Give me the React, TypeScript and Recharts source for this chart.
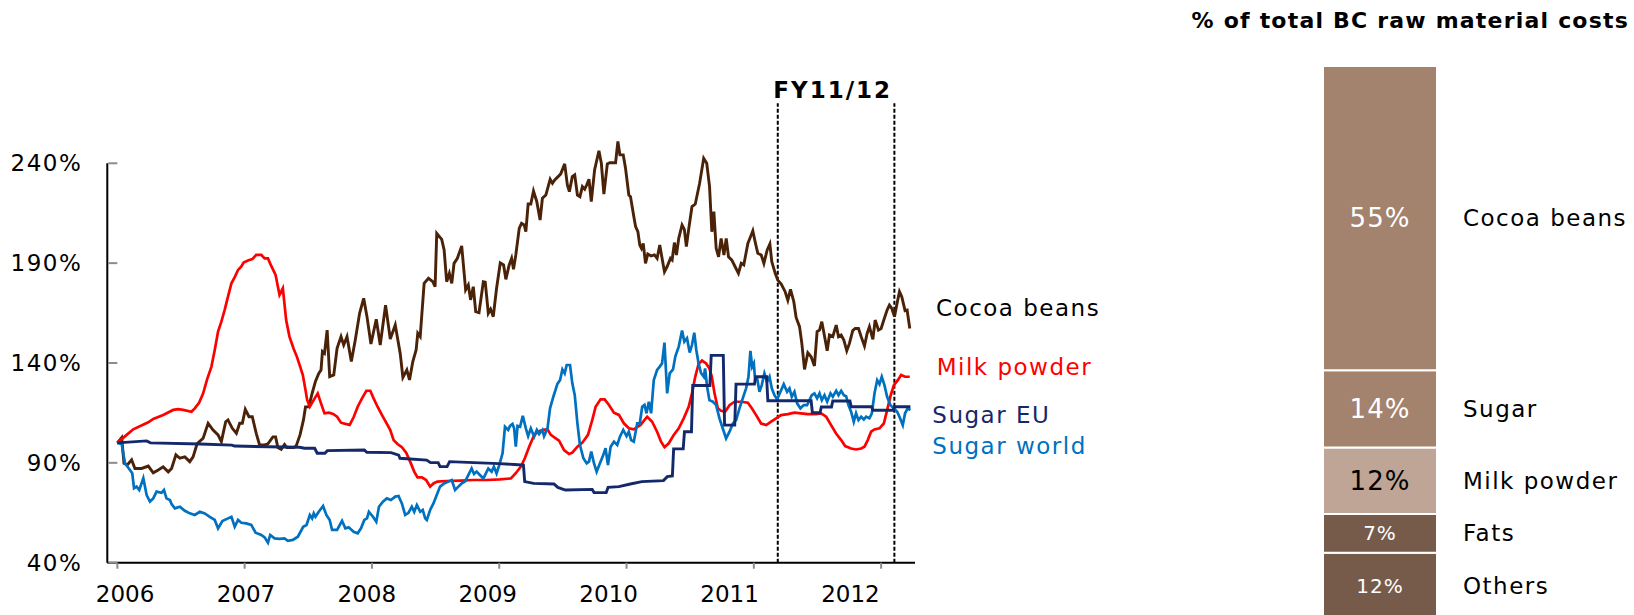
import React from 'react';
import { LineChart, Line, XAxis, YAxis, ReferenceLine, BarChart, Bar, LabelList } from 'recharts';

// Price index, Jan 2006 = 100%. Each entry is [decimal year, index %].
const cocoaBeans: [number, number][] = [
  [2006.0, 100], [2006.034, 102.6], [2006.052, 89.8], [2006.078, 89], [2006.112, 91.5], [2006.138, 87.2],
  [2006.191, 87.2], [2006.243, 88.4], [2006.282, 85], [2006.321, 86.4], [2006.36, 88], [2006.4, 85.5],
  [2006.426, 87.2], [2006.46, 94], [2006.491, 92.3], [2006.53, 93], [2006.569, 90.6], [2006.595, 93],
  [2006.627, 99.6], [2006.674, 102.3], [2006.713, 109.8], [2006.752, 106.4], [2006.791, 104], [2006.817, 100.6],
  [2006.851, 110.6], [2006.869, 111.5], [2006.903, 107.3], [2006.935, 104.8], [2006.961, 109.8], [2006.982, 109.8],
  [2007.005, 116.8], [2007.034, 113.1], [2007.06, 113.1], [2007.091, 104.8], [2007.117, 99], [2007.157, 99],
  [2007.183, 99.5], [2007.222, 103], [2007.243, 103], [2007.261, 97.6], [2007.287, 96.7], [2007.313, 99.2],
  [2007.332, 97.6], [2007.358, 97.6], [2007.386, 97.6], [2007.405, 98.5], [2007.435, 104], [2007.462, 111.5],
  [2007.478, 118], [2007.504, 118.1], [2007.53, 124.8], [2007.556, 130.7], [2007.582, 134.8], [2007.6, 136.5],
  [2007.611, 145.7], [2007.627, 144.8], [2007.648, 156.5], [2007.668, 133.2], [2007.7, 134], [2007.726, 147.3],
  [2007.757, 153.2], [2007.778, 149], [2007.804, 153.2], [2007.838, 140.7], [2007.869, 151.5], [2007.903, 164.9],
  [2007.935, 172.4], [2007.961, 163.2], [2007.992, 149.5], [2008.034, 161.9], [2008.065, 149], [2008.107, 169],
  [2008.144, 152], [2008.183, 159], [2008.222, 144.8], [2008.243, 132.8], [2008.274, 136.5], [2008.295, 131.5],
  [2008.321, 140.7], [2008.347, 146.5], [2008.36, 154.9], [2008.379, 153.2], [2008.41, 179.9], [2008.444, 182.4],
  [2008.478, 180.7], [2008.496, 178.2], [2008.509, 204.9], [2008.548, 201.9], [2008.567, 196.6], [2008.587, 180.7],
  [2008.608, 184.9], [2008.627, 179.9], [2008.645, 189.9], [2008.671, 192.4], [2008.705, 198.6], [2008.736, 176.6],
  [2008.757, 179.1], [2008.775, 171.6], [2008.796, 178.2], [2008.815, 165.7], [2008.841, 165.2], [2008.875, 180.7],
  [2008.89, 180.5], [2008.914, 164.9], [2008.932, 166.9], [2008.953, 163.2], [2008.979, 177.4], [2009.008, 190.1],
  [2009.034, 189.1], [2009.052, 181.9], [2009.078, 189.1], [2009.097, 192.4], [2009.112, 186.9], [2009.13, 194.1],
  [2009.157, 207.4], [2009.175, 209.9], [2009.196, 209.1], [2009.209, 205.8], [2009.227, 219.6], [2009.248, 219.6],
  [2009.269, 226.1], [2009.295, 220.8], [2009.321, 211.6], [2009.339, 222.5], [2009.366, 224.1], [2009.4, 232],
  [2009.418, 230], [2009.436, 231.7], [2009.462, 233.3], [2009.483, 234.7], [2009.514, 239.7], [2009.535, 229.2],
  [2009.551, 225.8], [2009.574, 233.3], [2009.593, 234.2], [2009.614, 224.1], [2009.634, 223.3], [2009.653, 228.3],
  [2009.671, 227], [2009.687, 229.2], [2009.705, 232], [2009.723, 220.8], [2009.749, 236.7], [2009.783, 246.3],
  [2009.802, 240], [2009.822, 224.6], [2009.849, 239.7], [2009.869, 240.3], [2009.914, 240.3], [2009.932, 250.9],
  [2009.948, 244.2], [2009.974, 244.2], [2009.992, 237.5], [2010.018, 224.1], [2010.031, 223.3], [2010.057, 213.3],
  [2010.071, 208.3], [2010.089, 205.8], [2010.104, 199.1], [2010.117, 197.4], [2010.131, 199.9], [2010.149, 189.9],
  [2010.167, 194.6], [2010.193, 193.6], [2010.219, 194.1], [2010.24, 192.4], [2010.261, 199.1], [2010.279, 192.4],
  [2010.298, 185.7], [2010.319, 188.3], [2010.345, 192.4], [2010.358, 191.6], [2010.376, 200.3], [2010.392, 194.1],
  [2010.41, 202.4], [2010.436, 209.1], [2010.454, 206.9], [2010.47, 198.3], [2010.488, 206.9], [2010.514, 218.3],
  [2010.54, 219.6], [2010.574, 230], [2010.606, 242.5], [2010.63, 240], [2010.652, 228.3], [2010.67, 205.7],
  [2010.686, 215.8], [2010.704, 197.4], [2010.723, 193.2], [2010.743, 202.4], [2010.765, 194.1], [2010.783, 202.4],
  [2010.801, 193.2], [2010.827, 191.5], [2010.853, 188.2], [2010.879, 184.9], [2010.901, 189.9], [2010.921, 189.1],
  [2010.953, 199.9], [2010.974, 203.2], [2010.992, 206.2], [2011.01, 200.7], [2011.031, 194.9], [2011.058, 194.1],
  [2011.079, 189.9], [2011.105, 196.6], [2011.126, 199.6], [2011.141, 190.7], [2011.168, 184.9], [2011.188, 181.5],
  [2011.215, 179.5], [2011.246, 175.7], [2011.267, 171.5], [2011.288, 176.9], [2011.314, 170.7], [2011.332, 162.8],
  [2011.359, 158.2], [2011.377, 149.8], [2011.398, 136.8], [2011.424, 145.1], [2011.45, 143.1], [2011.476, 138.5],
  [2011.497, 155.7], [2011.516, 156.5], [2011.534, 160.7], [2011.555, 153.5], [2011.576, 146.1], [2011.594, 154],
  [2011.62, 153.2], [2011.647, 159], [2011.665, 153.2], [2011.686, 154], [2011.707, 151.5], [2011.73, 146.1],
  [2011.751, 149.8], [2011.777, 156.2], [2011.796, 157.3], [2011.822, 157.3], [2011.843, 153.2], [2011.869, 148.5],
  [2011.89, 154.8], [2011.908, 158.2], [2011.935, 151.8], [2011.953, 161.5], [2011.979, 156.5], [2012.0, 157.3],
  [2012.021, 161.5], [2012.047, 166.5], [2012.065, 169], [2012.084, 167.3], [2012.105, 163.2], [2012.126, 170.2],
  [2012.144, 175.7], [2012.162, 173.2], [2012.188, 166.2], [2012.204, 166.5], [2012.225, 157.3],
];

const milkPowder: [number, number][] = [
  [2006.0, 100], [2006.073, 104], [2006.125, 106.8], [2006.243, 110.3], [2006.282, 112], [2006.36, 114],
  [2006.439, 116.5], [2006.478, 116.9], [2006.517, 116.5], [2006.582, 115.6], [2006.608, 117.3], [2006.642, 120.1],
  [2006.674, 124.8], [2006.705, 131.8], [2006.739, 138.2], [2006.765, 146.5], [2006.791, 155.7], [2006.817, 160.7],
  [2006.843, 166.6], [2006.869, 173.2], [2006.896, 179.9], [2006.922, 183], [2006.948, 186.6], [2006.974, 188.3],
  [2006.992, 190.3], [2007.026, 191.3], [2007.06, 192], [2007.091, 194.1], [2007.131, 194.1], [2007.157, 192.4],
  [2007.183, 192.4], [2007.209, 188.6], [2007.243, 184.1], [2007.274, 174.1], [2007.3, 177.4], [2007.326, 161.5],
  [2007.352, 153.2], [2007.384, 147.3], [2007.41, 143.2], [2007.436, 138.2], [2007.457, 134], [2007.478, 126.5],
  [2007.491, 121.5], [2007.512, 118.1], [2007.543, 121.5], [2007.574, 124.8], [2007.6, 119.8], [2007.627, 114.8],
  [2007.661, 115.1], [2007.695, 114.5], [2007.726, 113.1], [2007.757, 110.1], [2007.791, 109.5], [2007.825, 109],
  [2007.856, 112.8], [2007.888, 118.1], [2007.922, 122.3], [2007.956, 126.1], [2007.987, 126.1], [2008.013, 122.3],
  [2008.044, 118.1], [2008.078, 114], [2008.112, 110.1], [2008.144, 106.4], [2008.17, 101.4], [2008.201, 99.4],
  [2008.235, 97.8], [2008.269, 95.1], [2008.3, 90.6], [2008.332, 85.6], [2008.358, 82.7], [2008.392, 82.7],
  [2008.426, 81.4], [2008.457, 78.1], [2008.483, 79.7], [2008.514, 80.6], [2008.587, 80.9], [2008.692, 81.1],
  [2008.796, 81.4], [2008.901, 81.4], [2009.005, 81.7], [2009.091, 82.2], [2009.13, 84.8], [2009.17, 88.1],
  [2009.201, 92.3], [2009.235, 98.1], [2009.269, 103.1], [2009.3, 105.6], [2009.347, 106.5], [2009.379, 106.8],
  [2009.405, 104], [2009.444, 102.3], [2009.47, 101.1], [2009.509, 96.4], [2009.548, 94.4], [2009.574, 95.1],
  [2009.614, 98.1], [2009.653, 100.1], [2009.697, 104], [2009.731, 111.5], [2009.757, 118.1], [2009.796, 121.8],
  [2009.828, 121.8], [2009.862, 119], [2009.901, 115.1], [2009.94, 114], [2009.979, 109.8], [2010.018, 107.3],
  [2010.057, 106.8], [2010.089, 108.1], [2010.11, 109], [2010.162, 113.1], [2010.201, 110.6], [2010.24, 105.6],
  [2010.271, 100.6], [2010.298, 97.8], [2010.332, 99.8], [2010.371, 104], [2010.41, 107.3], [2010.449, 112.3],
  [2010.488, 118.1], [2010.514, 124.8], [2010.54, 133.2], [2010.566, 139.5], [2010.593, 141.2], [2010.625, 139.8],
  [2010.651, 137.3], [2010.67, 133.1], [2010.691, 124.8], [2010.717, 117.3], [2010.743, 116.1], [2010.774, 115.6],
  [2010.809, 118.9], [2010.848, 120.6], [2010.9, 120.6], [2010.953, 120.1], [2010.984, 117.3], [2011.018, 113.9],
  [2011.057, 109.7], [2011.097, 108.9], [2011.136, 110.6], [2011.175, 112.3], [2011.214, 113.9], [2011.267, 114.4],
  [2011.319, 115.1], [2011.371, 114.8], [2011.424, 114.4], [2011.489, 114.4], [2011.529, 114.8], [2011.568, 113.1],
  [2011.607, 108.9], [2011.646, 104.7], [2011.686, 101.4], [2011.717, 98.4], [2011.764, 97.2], [2011.803, 96.7],
  [2011.843, 97.2], [2011.869, 98.1], [2011.895, 101.4], [2011.921, 105.6], [2011.947, 106.7], [2011.987, 107.3],
  [2012.021, 109.7], [2012.047, 116.4], [2012.073, 123.4], [2012.1, 128.9], [2012.131, 131.4], [2012.157, 134],
  [2012.188, 133.1], [2012.225, 133.1],
];

// EU sugar moves in administered steps, so each level is listed at both ends.
const sugarEU: [number, number][] = [
  [2006.0, 100], [2006.23, 101], [2006.26, 100], [2006.65, 99.4], [2006.9, 98.9], [2006.92, 98.4],
  [2007.43, 97.8], [2007.47, 97.3], [2007.55, 97.3], [2007.57, 94.8], [2007.63, 94.8], [2007.65, 96.1],
  [2007.94, 96.4], [2007.96, 95.3], [2008.15, 95.1], [2008.21, 93.9], [2008.22, 92.3], [2008.43, 91.4],
  [2008.46, 90.1], [2008.52, 90.1], [2008.535, 88.1], [2008.59, 88.1], [2008.61, 90.6], [2008.8, 90.1],
  [2009.0, 89.6], [2009.12, 89.2], [2009.19, 88.9], [2009.2, 80.6], [2009.27, 79.7], [2009.43, 79.4],
  [2009.46, 77.7], [2009.52, 76.4], [2009.73, 76.7], [2009.745, 75.1], [2009.84, 75.1], [2009.855, 77.7],
  [2009.94, 78.1], [2010.03, 79.4], [2010.12, 80.6], [2010.29, 81.1], [2010.32, 83.1], [2010.36, 83.4],
  [2010.37, 97], [2010.445, 97], [2010.455, 105.6], [2010.51, 105.6], [2010.52, 128.7], [2010.655, 128.7],
  [2010.665, 143.8], [2010.76, 143.8], [2010.77, 108.9], [2010.85, 108.9], [2010.86, 129.4], [2011.005, 129.4],
  [2011.015, 133.1], [2011.1, 133.1], [2011.11, 121.1], [2011.45, 121.1], [2011.46, 115.1], [2011.52, 115.1],
  [2011.53, 118], [2011.61, 118], [2011.62, 121], [2011.755, 121], [2011.765, 118.1], [2011.925, 118.1],
  [2011.935, 116.3], [2012.095, 116.3], [2012.105, 118.1], [2012.23, 118.1],
];

const sugarWorld: [number, number][] = [
  [2006.0, 100], [2006.034, 99.4], [2006.06, 89.8], [2006.099, 86.4], [2006.117, 84.8], [2006.131, 77.3],
  [2006.151, 78.1], [2006.172, 76.4], [2006.204, 82.3], [2006.23, 73.9], [2006.256, 70.6], [2006.282, 72.2],
  [2006.308, 75.6], [2006.347, 75], [2006.366, 76.4], [2006.386, 72.2], [2006.413, 71.4], [2006.426, 69.4],
  [2006.452, 67.2], [2006.491, 68], [2006.53, 66], [2006.569, 64.7], [2006.608, 63.9], [2006.648, 65.5],
  [2006.687, 64.7], [2006.726, 63], [2006.765, 61.4], [2006.791, 57.2], [2006.825, 60.9], [2006.869, 62.2],
  [2006.896, 63], [2006.922, 58], [2006.948, 61.4], [2006.974, 60], [2007.013, 59.7], [2007.052, 58.9],
  [2007.086, 55], [2007.131, 53.9], [2007.157, 52.7], [2007.183, 50], [2007.201, 53.9], [2007.235, 52.2],
  [2007.274, 51.9], [2007.313, 52.2], [2007.339, 51], [2007.379, 51.4], [2007.418, 53], [2007.46, 58],
  [2007.486, 58.9], [2007.512, 63.9], [2007.53, 62.2], [2007.543, 64.7], [2007.556, 63], [2007.582, 65.5],
  [2007.616, 68.4], [2007.642, 63.9], [2007.668, 61.4], [2007.687, 56.4], [2007.726, 56.4], [2007.765, 61],
  [2007.791, 57.2], [2007.817, 57.7], [2007.856, 55.5], [2007.888, 54.7], [2007.914, 57.2], [2007.94, 61.4],
  [2007.961, 62.2], [2007.976, 65.5], [2008.008, 63], [2008.034, 60.5], [2008.055, 68], [2008.086, 70.6],
  [2008.117, 72.2], [2008.149, 71.4], [2008.183, 73.1], [2008.209, 73.4], [2008.235, 69.7], [2008.261, 63.9],
  [2008.287, 65], [2008.313, 68], [2008.332, 65.5], [2008.353, 68.9], [2008.379, 65.5], [2008.399, 66.4],
  [2008.418, 62.2], [2008.431, 61.4], [2008.457, 66.4], [2008.483, 69.7], [2008.509, 73.9], [2008.535, 78.1],
  [2008.567, 79.7], [2008.6, 80.6], [2008.627, 81.4], [2008.653, 76.4], [2008.679, 78.1], [2008.705, 79.7],
  [2008.731, 80.6], [2008.757, 83.9], [2008.783, 87.2], [2008.802, 84.4], [2008.822, 85.6], [2008.848, 83.9],
  [2008.875, 82.2], [2008.895, 84.7], [2008.914, 87.2], [2008.94, 85.6], [2008.958, 88.1], [2008.979, 84.7],
  [2009.0, 88.9], [2009.026, 94.8], [2009.045, 108.1], [2009.07, 106.5], [2009.085, 108.5], [2009.104, 109.5],
  [2009.117, 107.3], [2009.13, 98.1], [2009.144, 108.5], [2009.164, 108.1], [2009.185, 113.5], [2009.209, 107.3],
  [2009.227, 103.4], [2009.248, 107.3], [2009.274, 103.1], [2009.295, 106.5], [2009.313, 104.4], [2009.339, 106.5],
  [2009.352, 103.4], [2009.379, 107.3], [2009.399, 117.3], [2009.425, 123.1], [2009.457, 129.5], [2009.478, 131.5],
  [2009.496, 136.8], [2009.514, 134.8], [2009.53, 139], [2009.556, 139], [2009.574, 129.8], [2009.593, 124],
  [2009.614, 109.8], [2009.634, 98.9], [2009.661, 92.3], [2009.687, 89.8], [2009.705, 90.6], [2009.723, 95.6],
  [2009.744, 89.8], [2009.765, 85.6], [2009.791, 89.8], [2009.817, 93.9], [2009.835, 97.3], [2009.854, 88.9],
  [2009.875, 98.1], [2009.901, 100.6], [2009.927, 98.9], [2009.948, 103.1], [2009.974, 106.5], [2010.0, 103.4],
  [2010.018, 105.6], [2010.036, 101.4], [2010.057, 100.6], [2010.084, 109.8], [2010.104, 109.8], [2010.123, 118.1],
  [2010.141, 119], [2010.157, 114.8], [2010.175, 120.6], [2010.193, 114.8], [2010.214, 131.5], [2010.24, 136.5],
  [2010.261, 138.2], [2010.279, 139.8], [2010.298, 150.2], [2010.319, 124.8], [2010.339, 134.8], [2010.365, 136.8],
  [2010.384, 143.5], [2010.41, 148.2], [2010.436, 156.2], [2010.454, 150.7], [2010.475, 152.4], [2010.496, 145.2],
  [2010.514, 149], [2010.532, 155.2], [2010.548, 146.5], [2010.566, 139.8], [2010.585, 135], [2010.607, 133.1],
  [2010.617, 137.3], [2010.633, 128.1], [2010.651, 121.4], [2010.678, 120.6], [2010.704, 118.9], [2010.73, 112.3],
  [2010.756, 107.2], [2010.782, 102.2], [2010.809, 105.6], [2010.835, 109.7], [2010.861, 111.4], [2010.887, 117.3],
  [2010.913, 122.3], [2010.939, 127.3], [2010.958, 133.1], [2010.973, 146.1], [2010.987, 138.1], [2011.0, 139.8],
  [2011.01, 131.4], [2011.026, 132.3], [2011.044, 125.6], [2011.062, 128.9], [2011.083, 134.8], [2011.104, 130.6],
  [2011.123, 133.1], [2011.141, 127.3], [2011.162, 123.9], [2011.183, 121.8], [2011.209, 125.6], [2011.235, 129.4],
  [2011.261, 125.6], [2011.28, 127.3], [2011.298, 123.1], [2011.319, 125.6], [2011.34, 119.8], [2011.366, 117.3],
  [2011.392, 118.9], [2011.418, 118.9], [2011.437, 121.4], [2011.455, 123.9], [2011.476, 124.8], [2011.497, 122.3],
  [2011.516, 124.8], [2011.534, 121.4], [2011.555, 123.9], [2011.576, 120.6], [2011.602, 124.8], [2011.62, 123.1],
  [2011.647, 126.1], [2011.665, 123.9], [2011.686, 126.1], [2011.707, 123.9], [2011.725, 123.4], [2011.743, 118.9],
  [2011.764, 115.6], [2011.785, 110.6], [2011.803, 114.8], [2011.822, 111.4], [2011.843, 113.1], [2011.864, 111.7],
  [2011.882, 113.1], [2011.908, 112.3], [2011.927, 114.8], [2011.948, 124.8], [2011.969, 131.4], [2011.987, 129.4],
  [2012.005, 133.1], [2012.026, 128.9], [2012.047, 123.1], [2012.073, 118.9], [2012.1, 117.3], [2012.126, 115.6],
  [2012.144, 113.1], [2012.17, 108.9], [2012.188, 114.8], [2012.209, 117.3], [2012.23, 116.4],
];

const yearTicks = [2006, 2007, 2008, 2009, 2010, 2011, 2012];
const percentTicks = [40, 90, 140, 190, 240];
const fiscalYearBounds = [2011.188, 2012.104];

// Share of raw material costs, top to bottom of the stacked bar
const costCategories = ['Cocoa beans', 'Sugar', 'Milk powder', 'Fats', 'Others'];
const costShares = [55, 14, 12, 7, 12];

const FONT = '"DejaVu Sans", Verdana, sans-serif';
const X_DOMAIN: [number, number] = [2005.921, 2012.266];

const toPoints = (s: [number, number][]) => s.map(([t, v]) => ({ t, v }));

const series = [
  { name: 'Cocoa beans', data: toPoints(cocoaBeans), color: '#4a2208', width: 2.9 },
  { name: 'Milk powder', data: toPoints(milkPowder), color: '#ff0000', width: 2.7 },
  { name: 'Sugar world', data: toPoints(sugarWorld), color: '#0070c0', width: 2.7 },
  { name: 'Sugar EU', data: toPoints(sugarEU), color: '#14296b', width: 2.9 },
];

const segColors = ['#a3826e', '#a3826e', '#bea595', '#775b4a', '#775b4a'];
const segTextColors = ['#fff', '#fff', '#000', '#fff', '#fff'];
const segFontSizes = [26, 26, 26, 20, 20];

const barRow: Record<string, string | number> = { name: 'BC' };
costShares.forEach((v, i) => { barRow[`s${i}`] = v; });

const YTick = ({ x, y, payload }: any) => (
  <g>
    <line x1={x + 26} x2={x + 35} y1={y} y2={y} stroke="#8c8c8c" strokeWidth={2} />
    <text x={x} y={y} dy="0.355em" textAnchor="end" fontSize={23} fill="#000" style={{ letterSpacing: 1.5 }}>
      {`${payload.value}%`}
    </text>
  </g>
);

// year labels run on a slightly tighter spacing than the tick marks
const XTick = ({ x, y, payload }: any) => {
  const shift = 7.7 - 6.4 * (payload.value - 2006);
  return (
    <text x={x + shift} y={y} dy="0.71em" textAnchor="middle" fontSize={23} fill="#000">{payload.value}</text>
  );
};

const TextAt = ({ text, left, cy, size, color = '#000', bold = false, spacing = 1.5 }: any) => (
  <div style={{
    position: 'absolute', left, top: cy - size * 0.48, fontSize: size, lineHeight: `${size}px`,
    color, fontWeight: bold ? 700 : 400, letterSpacing: spacing, whiteSpace: 'nowrap',
  }}>{text}</div>
);

const App = () => {
  return (
    <div style={{
      position: 'absolute', left: 0, top: 0, width: 1634, height: 615, overflow: 'hidden',
      background: '#fff', fontFamily: FONT,
    }}>
      <div style={{ position: 'absolute', left: 0, top: 0 }}>
        <LineChart width={940} height={615} margin={{ top: 83.4, right: 25, bottom: 0, left: 0 }}>
          <XAxis
            dataKey="t" type="number" domain={X_DOMAIN} ticks={yearTicks} allowDataOverflow
            height={52.3} tickSize={6} tickMargin={16.7}
            axisLine={{ stroke: '#000', strokeWidth: 2 }} tickLine={{ stroke: '#8c8c8c', strokeWidth: 2 }}
            tick={<XTick />}
          />
          <YAxis
            type="number" domain={[40, 280]} ticks={percentTicks} width={107.3}
            axisLine={false} tickLine={false} tickSize={0} tickMargin={25} tick={<YTick />}
          />
          <ReferenceLine
            segment={[{ x: X_DOMAIN[0], y: 40 }, { x: X_DOMAIN[0], y: 240 }]}
            stroke="#000" strokeWidth={2} ifOverflow="visible"
          />
          {fiscalYearBounds.map((b) => (
            <ReferenceLine
              key={b} segment={[{ x: b, y: 40 }, { x: b, y: 270 }]}
              stroke="#000" strokeWidth={2} strokeDasharray="4 2" ifOverflow="visible"
            />
          ))}
          {series.map((s) => (
            <Line
              key={s.name} name={s.name} data={s.data} dataKey="v" type="linear"
              stroke={s.color} strokeWidth={s.width} dot={false} activeDot={false}
              isAnimationActive={false}
            />
          ))}
        </LineChart>
      </div>

      <TextAt text="FY11/12" left={773.3} cy={90} size={23} bold spacing={2} />
      <TextAt text="Cocoa beans" left={936} cy={308.3} size={23} />
      <TextAt text="Milk powder" left={936.7} cy={366.7} size={23} color="#ff0000" />
      <TextAt text="Sugar EU" left={932.3} cy={415} size={23} color="#14296b" />
      <TextAt text="Sugar world" left={932.3} cy={445.7} size={23} color="#0070c0" />

      <div style={{
        position: 'absolute', right: 5, top: 20.7 - 22 * 0.48, fontSize: 22, lineHeight: '22px',
        fontWeight: 700, letterSpacing: 1.2, whiteSpace: 'nowrap',
      }}>% of total BC raw material costs</div>

      <div style={{ position: 'absolute', left: 1323.3, top: 66 }}>
        <BarChart
          width={310.7} height={553} data={[barRow]} barCategoryGap={0}
          margin={{ top: 0, right: 196.7, bottom: 0, left: 0 }}
        >
          <XAxis dataKey="name" hide />
          <YAxis type="number" domain={[0, 100]} hide />
          {costShares.map((_, k) => {
            const i = costShares.length - 1 - k;
            return (
              <Bar
                key={i} dataKey={`s${i}`} stackId="cost" fill={segColors[i]}
                stroke="#fff" strokeWidth={2} isAnimationActive={false}
              >
                <LabelList
                  dataKey={`s${i}`} position="center" formatter={(v: any) => `${v}%`}
                  fill={segTextColors[i]} fontSize={segFontSizes[i]} style={{ letterSpacing: 1 }}
                />
                <LabelList
                  dataKey={`s${i}`}
                  content={(p: any) => (
                    <text
                      x={p.x + p.width + 26} y={p.y + p.height / 2} dy="0.355em"
                      fontSize={23} fill="#000" style={{ letterSpacing: 1.5 }}
                    >{costCategories[i]}</text>
                  )}
                />
              </Bar>
            );
          })}
        </BarChart>
      </div>
    </div>
  );
};

export default App;
